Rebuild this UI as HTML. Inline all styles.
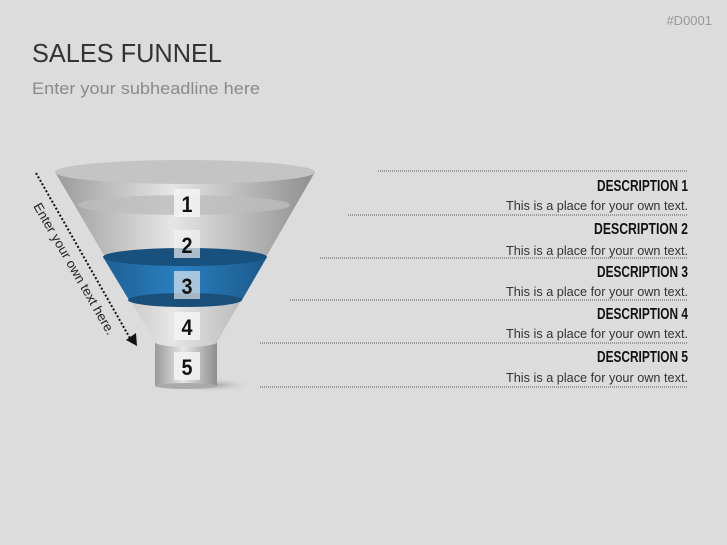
<!DOCTYPE html>
<html><head><style>
body{margin:0;width:727px;height:545px;background:#dcdcdc;overflow:hidden;font-family:"Liberation Sans",sans-serif;}
</style></head><body>
<svg width="727" height="545" xmlns="http://www.w3.org/2000/svg" style="position:absolute;left:0;top:0">
<defs>
<linearGradient id="g" x1="0" x2="1" y1="0" y2="0">
<stop offset="0" stop-color="#9a9a9a"/><stop offset="0.45" stop-color="#e6e6e6"/><stop offset="1" stop-color="#8e8e8e"/>
</linearGradient>
<linearGradient id="b" x1="0" x2="1" y1="0" y2="0">
<stop offset="0" stop-color="#1d5f94"/><stop offset="0.45" stop-color="#2a7fc0"/><stop offset="1" stop-color="#1b5a8c"/>
</linearGradient>
<radialGradient id="sh"><stop offset="0" stop-color="#999"/><stop offset="1" stop-color="#dcdcdc" stop-opacity="0"/></radialGradient>
</defs>
<text x="32" y="62" font-size="26" fill="#333" textLength="190" lengthAdjust="spacingAndGlyphs">SALES FUNNEL</text>
<text x="32" y="94" font-size="17" fill="#8a8a8a" textLength="228" lengthAdjust="spacingAndGlyphs">Enter your subheadline here</text>
<text x="712" y="25" font-size="13" fill="#999" text-anchor="end">#D0001</text>
<ellipse cx="210" cy="385" rx="45" ry="7" fill="url(#sh)"/>
<rect x="155" y="342" width="62" height="44" fill="url(#g)"/>
<ellipse cx="186" cy="386" rx="31" ry="3" fill="#aaa"/>
<ellipse cx="186" cy="342" rx="31" ry="4" fill="#b0b0b0"/>
<path d="M55,172 L155,342 A31,5 0 0 0 217,342 L315,172 Z" fill="url(#g)"/>
<ellipse cx="185" cy="172" rx="130" ry="12" fill="#c4c4c4"/>
<ellipse cx="184" cy="205" rx="106" ry="10" fill="#bdbdbd" opacity="0.8"/>
<path d="M103,257 L129,300 L242,300 L267,257 Z" fill="url(#b)"/>
<ellipse cx="185" cy="300" rx="57" ry="7" fill="#1a4f7a"/>
<ellipse cx="185" cy="257" rx="82" ry="9" fill="#18507e"/>
<g fill="#f3f3f3" opacity="0.9">
<rect x="174" y="189" width="26" height="28"/><rect x="174" y="230" width="26" height="28" opacity="0.75"/>
<rect x="174" y="271" width="26" height="28" opacity="0.7"/><rect x="174" y="312" width="26" height="28"/>
<rect x="174" y="352" width="26" height="28"/>
</g>
<g font-size="22" font-weight="bold" fill="#111" text-anchor="middle">
<text x="187" y="212" textLength="11" lengthAdjust="spacingAndGlyphs">1</text><text x="187" y="253" textLength="11" lengthAdjust="spacingAndGlyphs">2</text><text x="187" y="294" textLength="11" lengthAdjust="spacingAndGlyphs">3</text><text x="187" y="335" textLength="11" lengthAdjust="spacingAndGlyphs">4</text><text x="187" y="375" textLength="11" lengthAdjust="spacingAndGlyphs">5</text>
</g>
<line x1="36" y1="173" x2="131" y2="340" stroke="#111" stroke-width="2" stroke-dasharray="2,2"/>
<path d="M126,340 L137,346 L136,333 Z" fill="#111"/>
<text transform="translate(33,206) rotate(60)" font-size="13" fill="#222" textLength="150" lengthAdjust="spacingAndGlyphs">Enter your own text here.</text>
<g stroke="#555" stroke-width="1" stroke-dasharray="1,1">
<line x1="378" y1="171" x2="688" y2="171"/><line x1="348" y1="215" x2="688" y2="215"/>
<line x1="320" y1="258" x2="688" y2="258"/><line x1="290" y1="300" x2="688" y2="300"/>
<line x1="260" y1="343" x2="688" y2="343"/><line x1="260" y1="387" x2="688" y2="387"/>
</g>
<g text-anchor="end" font-weight="bold" font-size="16" fill="#111">
<text x="688" y="191" textLength="91" lengthAdjust="spacingAndGlyphs">DESCRIPTION 1</text><text x="688" y="234" textLength="94" lengthAdjust="spacingAndGlyphs">DESCRIPTION 2</text>
<text x="688" y="277" textLength="91" lengthAdjust="spacingAndGlyphs">DESCRIPTION 3</text><text x="688" y="319" textLength="91" lengthAdjust="spacingAndGlyphs">DESCRIPTION 4</text><text x="688" y="362" textLength="91" lengthAdjust="spacingAndGlyphs">DESCRIPTION 5</text>
</g>
<g text-anchor="end" font-size="12.5" fill="#333">
<text x="688" y="210" textLength="182" lengthAdjust="spacingAndGlyphs">This is a place for your own text.</text><text x="688" y="255" textLength="182" lengthAdjust="spacingAndGlyphs">This is a place for your own text.</text>
<text x="688" y="296" textLength="182" lengthAdjust="spacingAndGlyphs">This is a place for your own text.</text><text x="688" y="338" textLength="182" lengthAdjust="spacingAndGlyphs">This is a place for your own text.</text>
<text x="688" y="382" textLength="182" lengthAdjust="spacingAndGlyphs">This is a place for your own text.</text>
</g>
</svg>
</body></html>
